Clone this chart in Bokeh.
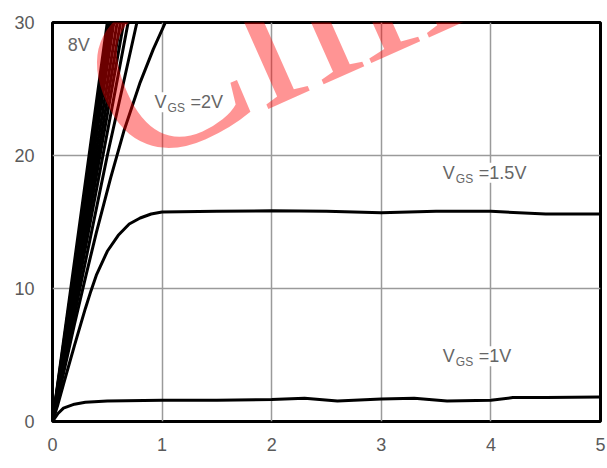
from bokeh.plotting import figure
from bokeh.models import Label, FixedTicker, Range1d
from bokeh.embed import file_html
from bokeh.resources import INLINE

# ---- data ----
x_ticks = [0, 1, 2, 3, 4, 5]
y_ticks = [0, 10, 20, 30]

# steep family (VGS = 8V ... 3V), nearly linear
bundle_top_x = [0.50, 0.52, 0.54, 0.56, 0.59, 0.62, 0.65, 0.69]
bundle_y = [0, 10, 20, 30]

vgs25_x = [0, 0.25, 0.5, 0.77]
vgs25_y = [0, 10, 20, 30]

vgs2_x = [0, 0.1, 0.2, 0.3, 0.4, 0.53, 0.65, 0.8, 0.92, 1.03]
vgs2_y = [0, 3.6, 7.3, 10.8, 14.2, 18.3, 21.8, 25.5, 28.0, 30.0]

vgs15_x = [0, 0.05, 0.1, 0.2, 0.3, 0.35, 0.4, 0.5, 0.6, 0.7, 0.8, 0.9, 1.0, 1.5, 2.0, 2.5, 3.0, 3.5, 4.0, 4.5, 5.0]
vgs15_y = [0, 1.3, 2.8, 5.7, 8.5, 9.8, 11.0, 12.8, 14.0, 14.85, 15.3, 15.6, 15.75, 15.8, 15.85, 15.8, 15.7, 15.8, 15.8, 15.6, 15.6]

vgs1_x = [0, 0.05, 0.1, 0.2, 0.3, 0.5, 1.0, 1.5, 2.0, 2.3, 2.6, 3.0, 3.3, 3.6, 4.0, 4.2, 4.5, 5.0]
vgs1_y = [0, 0.6, 1.0, 1.3, 1.45, 1.55, 1.6, 1.6, 1.65, 1.75, 1.55, 1.7, 1.75, 1.55, 1.6, 1.8, 1.8, 1.85]

W, H = 607, 468
p = figure(width=W, height=H, output_backend="svg", toolbar_location=None,
           x_range=Range1d(0, 5), y_range=Range1d(0, 30),
           min_border_left=52, min_border_right=7, min_border_top=22, min_border_bottom=47)

p.background_fill_color = "white"
p.border_fill_color = "white"
p.outline_line_color = "black"
p.outline_line_width = 3

p.xaxis.ticker = FixedTicker(ticks=x_ticks)
p.yaxis.ticker = FixedTicker(ticks=y_ticks)
for ax in (p.xaxis[0], p.yaxis[0]):
    ax.axis_line_color = None
    ax.major_tick_line_color = None
    ax.minor_tick_line_color = None
    ax.major_label_text_font = "Liberation Sans"
    ax.major_label_text_font_size = "18px"
    ax.major_label_text_color = "#5a5a5a"
p.xaxis.major_label_standoff = 10
p.yaxis.major_label_standoff = 12

p.xgrid.ticker = FixedTicker(ticks=x_ticks)
p.ygrid.ticker = FixedTicker(ticks=y_ticks)
p.grid.grid_line_color = "#9a9a9a"
p.grid.grid_line_width = 1.5

lw = 3
for tx in bundle_top_x:
    xs = [tx * v / 30.0 for v in bundle_y]
    p.line(xs, bundle_y, line_color="black", line_width=lw)
p.line(vgs25_x, vgs25_y, line_color="black", line_width=lw)
p.line(vgs2_x, vgs2_y, line_color="black", line_width=lw)
p.line(vgs15_x, vgs15_y, line_color="black", line_width=lw)
p.line(vgs1_x, vgs1_y, line_color="black", line_width=lw)

def vgs_label(x, y, val):
    base = dict(text_font="Liberation Sans", text_color="#666666",
                background_fill_color="white", text_baseline="middle")
    p.add_layout(Label(x=x, y=y, text="V", text_font_size="18px", **base))
    p.add_layout(Label(x=x + 0.12, y=y - 0.45, text="GS", text_font_size="12px", **base))
    p.add_layout(Label(x=x + 0.33, y=y, text=" =" + val, text_font_size="18px", **base))

vgs_label(0.93, 24.0, "2V")
vgs_label(3.56, 18.7, "1.5V")
vgs_label(3.56, 4.9, "1V")
p.add_layout(Label(x=0.14, y=28.3, text="8V", text_font="Liberation Sans", text_font_size="18px",
                   text_color="#666666", text_baseline="middle"))

# red watermark
p.add_layout(Label(x=0.40, y=24.0, text="China", text_font="Liberation Serif",
                   text_font_size="225px", text_color="red", text_alpha=0.42,
                   angle=24, angle_units="deg", text_baseline="alphabetic"))

open("out.html", "w").write(file_html(p, INLINE))
